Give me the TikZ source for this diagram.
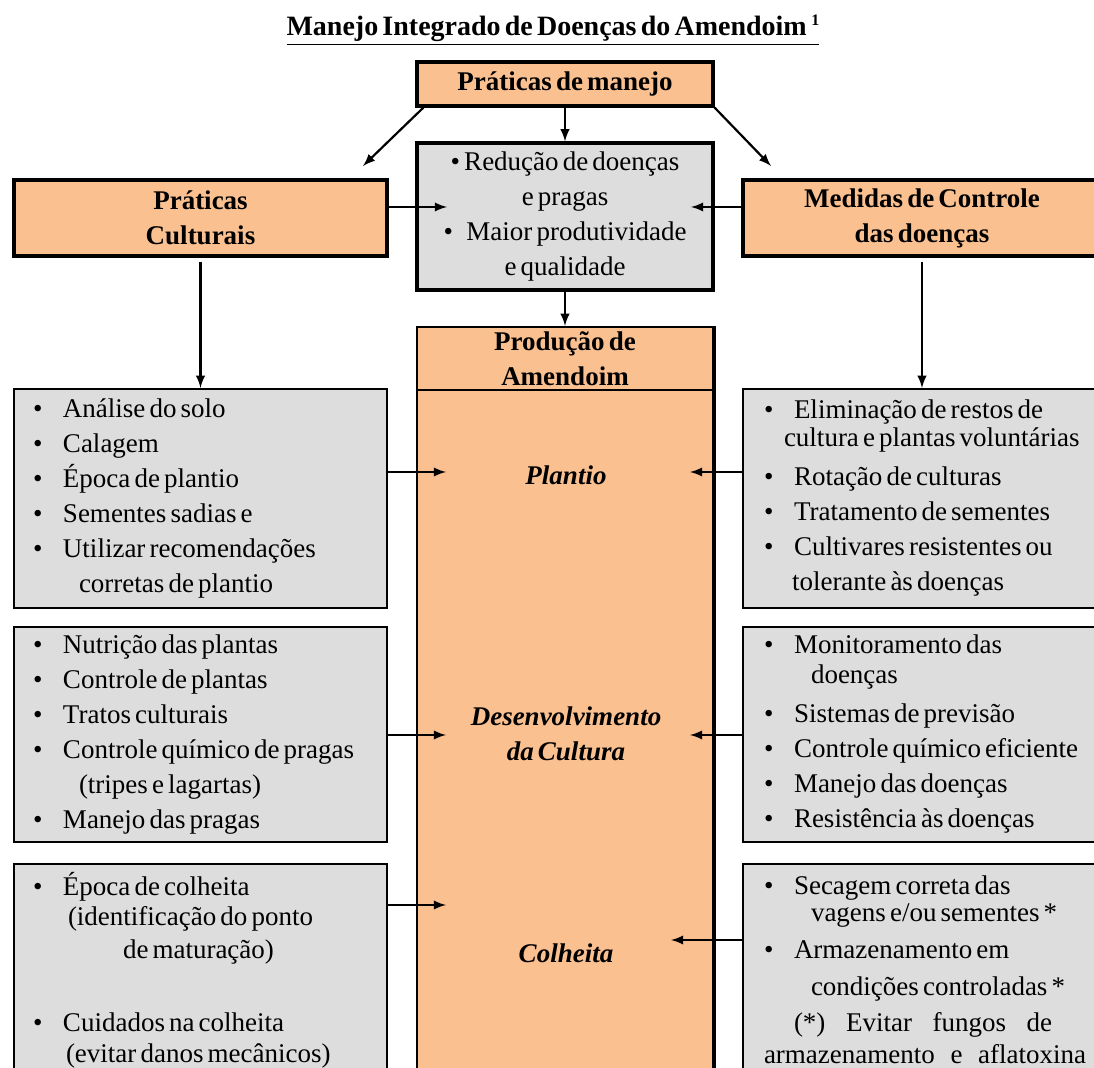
\documentclass[tikz,border=0pt]{standalone}
\usepackage{fontspec}
\setmainfont{Liberation Serif}[WordSpace=0.6]
\usetikzlibrary{positioning}
\definecolor{peach}{RGB}{250,192,144}
\definecolor{boxgray}{RGB}{221,221,221}
\hyphenpenalty=10000
\exhyphenpenalty=10000
\newcommand{\txt}{\fontsize{13.5}{17.5}\selectfont}
\newcommand{\bul}{\makebox[15pt][l]{\textbullet}}
\tikzset{
  hdbox/.style={draw,line width=1.6pt,fill=peach,font=\txt\bfseries,align=center,inner sep=0pt},
  graybox/.style={draw,line width=1.1pt,fill=boxgray,font=\txt,align=left,inner ysep=0pt,
    execute at begin node={\spaceskip=0pt\xspaceskip=0pt\relax}},
  stage/.style={font=\txt\bfseries\itshape,align=center},
  arr/.style={-latex,line width=1.1pt}
}

\begin{document}
\begin{tikzpicture}[x=0.5pt,y=-0.5pt]
\clip (0,0) rectangle (1094,1068);
\fill[white] (0,0) rectangle (1094,1068);

\node[font=\fontsize{14}{17}\selectfont\bfseries] (title) at (553,30) {\underline{Manejo Integrado de Doenças do Amendoim\,\raisebox{5pt}{\fontsize{8}{9}\selectfont 1}}};

\node[hdbox,minimum width=148pt,minimum height=22pt] (manejo) at (565,84) {Práticas de manejo};
\node[hdbox,fill=boxgray,font=\txt,minimum width=148pt,minimum height=73.5pt] (metas) at (565,216.5) {\textbullet\ Redução de doenças\\ e pragas\\ \textbullet\enspace Maior produtividade\\ e qualidade};
\node[hdbox,minimum width=186.5pt,minimum height=38pt] (cult) at (200.5,218) {Práticas\\Culturais};
\node[hdbox,minimum width=179pt,minimum height=38pt] (ctrl) at (922,218) {Medidas de Controle\\das doenças};

\node[hdbox,line width=1.1pt,minimum width=148pt,minimum height=31.5pt] (prodhead) at (565,358.5) {Produção de\\Amendoim};
\node[draw,line width=1.1pt,fill=peach,minimum width=148pt,minimum height=345pt,inner sep=0pt] (prod) at (565,735) {};
\draw[line width=2.2pt] (prodhead.north east) -- (prod.south east);

\node[stage] (plantio) at (566,475) {Plantio};
\node[stage] (desenv) at (566,734) {Desenvolvimento\\da Cultura};
\node[stage] (colheita) at (566,953) {Colheita};

\node[graybox,inner xsep=9.5pt,text width=167.5pt,minimum height=109.5pt] (cult1) at (200.5,498.5) {%
\bul Análise do solo\\
\bul Calagem\\
\bul Época de plantio\\
\bul Sementes sadias e\\
\bul Utilizar recomendações\\
\hspace*{23pt}corretas de plantio};
\node[graybox,inner xsep=9.5pt,text width=167.5pt,minimum height=107.5pt] (cult2) at (200.5,734.5) {%
\bul Nutrição das plantas\\
\bul Controle de plantas\\
\bul Tratos culturais\\
\bul Controle químico de pragas\\
\hspace*{23pt}(tripes e lagartas)\\
\bul Manejo das pragas};
\node[graybox,inner xsep=9.5pt,text width=167.5pt,minimum height=106pt] (cult3) at (200.5,970) {%
\bul Época de colheita\\[-2.5pt]
\hspace*{17.5pt}(identificação do ponto\\[-1pt]
\hspace*{45pt}de maturação)\\[19pt]
\bul Cuidados na colheita\\[-2pt]
\hspace*{16.5pt}(evitar danos mecânicos)};

\node[graybox,inner xsep=10.5pt,text width=162.5pt,minimum height=109.5pt] (ctrl1) at (926.5,498.5) {%
\bul Eliminação de restos de\\[-3.5pt]
\hspace*{10pt}cultura e plantas voluntárias\\[2pt]
\bul Rotação de culturas\\
\bul Tratamento de sementes\\
\bul Cultivares resistentes ou\\
\hspace*{14pt}tolerante às doenças};
\node[graybox,inner xsep=10.5pt,text width=162.5pt,minimum height=107.5pt] (ctrl2) at (926.5,734.5) {%
\bul Monitoramento das\\[-2.5pt]
\hspace*{23.5pt}doenças\\[2pt]
\bul Sistemas de previsão\\
\bul Controle químico eficiente\\
\bul Manejo das doenças\\
\bul Resistência às doenças};
\node[graybox,inner xsep=10.5pt,text width=162.5pt,minimum height=106pt] (ctrl3) at (926.5,970) {%
\bul Secagem correta das\\[-4pt]
\hspace*{23.5pt}vagens e/ou sementes *\\[1pt]
\bul Armazenamento em\\[1pt]
\hspace*{23.5pt}condições controladas *\\[0.5pt]
\hspace*{15pt}\makebox[129pt][s]{(*)\hfill Evitar\hfill fungos\hfill de}\\[-1.5pt]
\makebox[161pt][s]{armazenamento\hfill e\hfill aflatoxina}};

\coordinate (cultin) at (363,166);
\coordinate (ctrlin) at (771,166);
\coordinate (metasL) at (447,207);
\coordinate (metasR) at (691,207);
\coordinate (plantL) at (446,472);
\coordinate (plantR) at (690,472);
\coordinate (desL) at (446,735);
\coordinate (desR) at (690,735);
\coordinate (colL) at (446,905);
\coordinate (colR) at (671,940);

\draw[arr] ([xshift=4pt]manejo.south west) -- (cultin);
\draw[arr] (manejo.south east) -- (ctrlin);
\draw[arr] (manejo.south) -- (metas.north);
\draw[arr] (cult.east |- metasL) -- (metasL);
\draw[arr] (ctrl.west |- metasR) -- (metasR);
\draw[arr] (metas.south) -- (prodhead.north);
\draw[arr] ([yshift=-2pt]cult.south) -- (cult1.north);
\draw[arr] ([yshift=-2pt]ctrl.south) -- (ctrl.south |- ctrl1.north);
\draw[arr] (cult1.east |- plantL) -- (plantL);
\draw[arr] (ctrl1.west |- plantR) -- (plantR);
\draw[arr] (cult2.east |- desL) -- (desL);
\draw[arr] (ctrl2.west |- desR) -- (desR);
\draw[arr] (cult3.east |- colL) -- (colL);
\draw[arr] (ctrl3.west |- colR) -- (colR);

\end{tikzpicture}
\end{document}
